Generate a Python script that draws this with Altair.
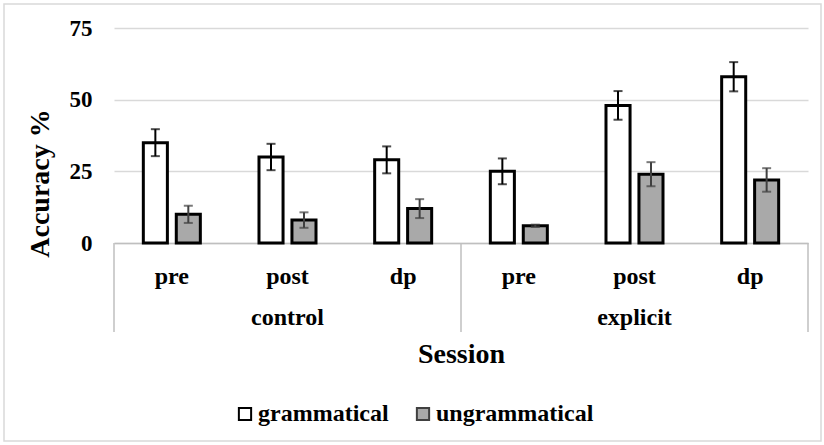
import altair as alt
import pandas as pd

# Accuracy by condition group and test session, with standard errors
groups = ["control", "control", "control", "explicit", "explicit", "explicit"]
sessions = ["pre", "post", "dp", "pre", "post", "dp"]
series = ["grammatical", "ungrammatical"]
grammatical = [35, 30, 29, 25, 48, 58]
grammatical_err = [4.7, 4.6, 4.7, 4.5, 5.0, 5.1]
ungrammatical = [10, 8, 12, 6, 24, 22]
ungrammatical_err = [3.0, 2.7, 3.3, 0.4, 4.2, 4.1]
y_ticks = [0, 25, 50, 75]
group_names = ["control", "explicit"]

FONT = "Liberation Serif"
W, H = 694, 215

cells = [f"{g}|{s}" for g, s in zip(groups, sessions)]

rows = []
for name, vals, errs in [("grammatical", grammatical, grammatical_err),
                         ("ungrammatical", ungrammatical, ungrammatical_err)]:
    for c, v, e in zip(cells, vals, errs):
        rows.append({"cell": c, "series": name, "value": v,
                     "lo": v - e, "hi": v + e})
df = pd.DataFrame(rows)

x_axis = alt.Axis(
    labelExpr="split(datum.value, '|')[1]",
    labelAngle=0, labelPadding=40, labelBaseline="alphabetic",
    labelFont=FONT, labelFontSize=24, labelFontWeight="bold", labelColor="black",
    ticks=False, domain=True, domainColor="#bfbfbf", domainWidth=1.5, grid=False,
    title="Session", titleFont=FONT, titleFontSize=28, titleFontWeight="bold",
    titleColor="black", titleX=W / 2, titleY=119, titleBaseline="alphabetic",
    titleAlign="center",
)
x_scale = alt.Scale(paddingInner=0, paddingOuter=0)

def xenc(**kw):
    return alt.X("cell:N", sort=cells, scale=x_scale, axis=x_axis, **kw)

y_axis = alt.Axis(
    values=y_ticks, grid=True, gridColor="#d9d9d9", gridWidth=1.5,
    domain=False, ticks=False, labelPadding=22,
    labelFont=FONT, labelFontSize=23, labelFontWeight="bold", labelColor="black",
    title="Accuracy %", titleFont=FONT, titleFontSize=28, titleFontWeight="bold",
    titleColor="black", titleX=-66, titleY=155, titleBaseline="alphabetic",
    titleAlign="center", titleAngle=270,
)
y_scale = alt.Scale(domain=[0, 75], nice=False)

x_off = alt.XOffset("series:N", sort=series,
                    scale=alt.Scale(paddingInner=0.27, paddingOuter=0.89))

base = alt.Chart(df).encode(x=xenc(), xOffset=x_off)

bars = base.mark_bar(stroke="black", strokeWidth=3).encode(
    y=alt.Y("value:Q", scale=y_scale, axis=y_axis),
    fill=alt.Fill(
        "series:N", sort=series,
        scale=alt.Scale(domain=series, range=["white", "#a9a9a9"]),
        legend=alt.Legend(
            title=None, orient="none", legendX=119, legendY=374,
            direction="horizontal", symbolType="square", symbolSize=150,
            symbolStrokeColor="black", symbolStrokeWidth=2,
            labelFont=FONT, labelFontSize=24, labelFontWeight="bold",
            labelColor="black", labelOffset=1, columnPadding=22, labelLimit=0,
        ),
    ),
)

err_color = alt.Color("series:N", sort=series,
                      scale=alt.Scale(domain=series, range=["black", "#404040"]),
                      legend=None)

err_rule = base.mark_rule(strokeWidth=2).encode(
    y=alt.Y("lo:Q", scale=y_scale, axis=y_axis), y2="hi:Q", color=err_color)
cap_lo = base.mark_tick(size=9, thickness=2).encode(
    y=alt.Y("lo:Q", scale=y_scale, axis=y_axis), color=err_color)
cap_hi = base.mark_tick(size=9, thickness=2).encode(
    y=alt.Y("hi:Q", scale=y_scale, axis=y_axis), color=err_color)

# Group names under the session labels, centred on the middle session
grp_df = pd.DataFrame({"cell": [f"{g}|post" for g in group_names],
                       "group": group_names})
grp_text = alt.Chart(grp_df).mark_text(
    font=FONT, fontSize=24, fontWeight="bold", color="black",
    baseline="alphabetic", align="center",
).encode(x=xenc(), y=alt.value(H + 82), text="group:N")

# Divider lines of the two-level category axis
left_edges = alt.Chart(pd.DataFrame({"cell": ["control|pre", "explicit|pre"]})).mark_rule(
    color="#bfbfbf", strokeWidth=1.5
).encode(x=xenc(bandPosition=0), y=alt.value(H), y2=alt.value(H + 89))
right_edge = alt.Chart(pd.DataFrame({"cell": ["explicit|dp"]})).mark_rule(
    color="#bfbfbf", strokeWidth=1.5
).encode(x=xenc(bandPosition=1), y=alt.value(H), y2=alt.value(H + 89))

# Outer frame around the whole figure
frame = alt.Chart(pd.DataFrame({"f": [0]})).mark_rect(
    filled=False, stroke="#d9d9d9", strokeWidth=1.5
).encode(x=alt.value(-110), x2=alt.value(707), y=alt.value(-24), y2=alt.value(413))

chart = alt.layer(
    frame, left_edges, right_edge, bars, err_rule, cap_lo, cap_hi, grp_text
).properties(
    width=W, height=H,
    autosize=alt.AutoSizeParams(type="none"),
    padding={"left": 114, "top": 28, "right": 16, "bottom": 202},
    background="white",
).configure_view(stroke=None)

chart.save("out.html", embed_options={"renderer": "svg", "actions": False})
